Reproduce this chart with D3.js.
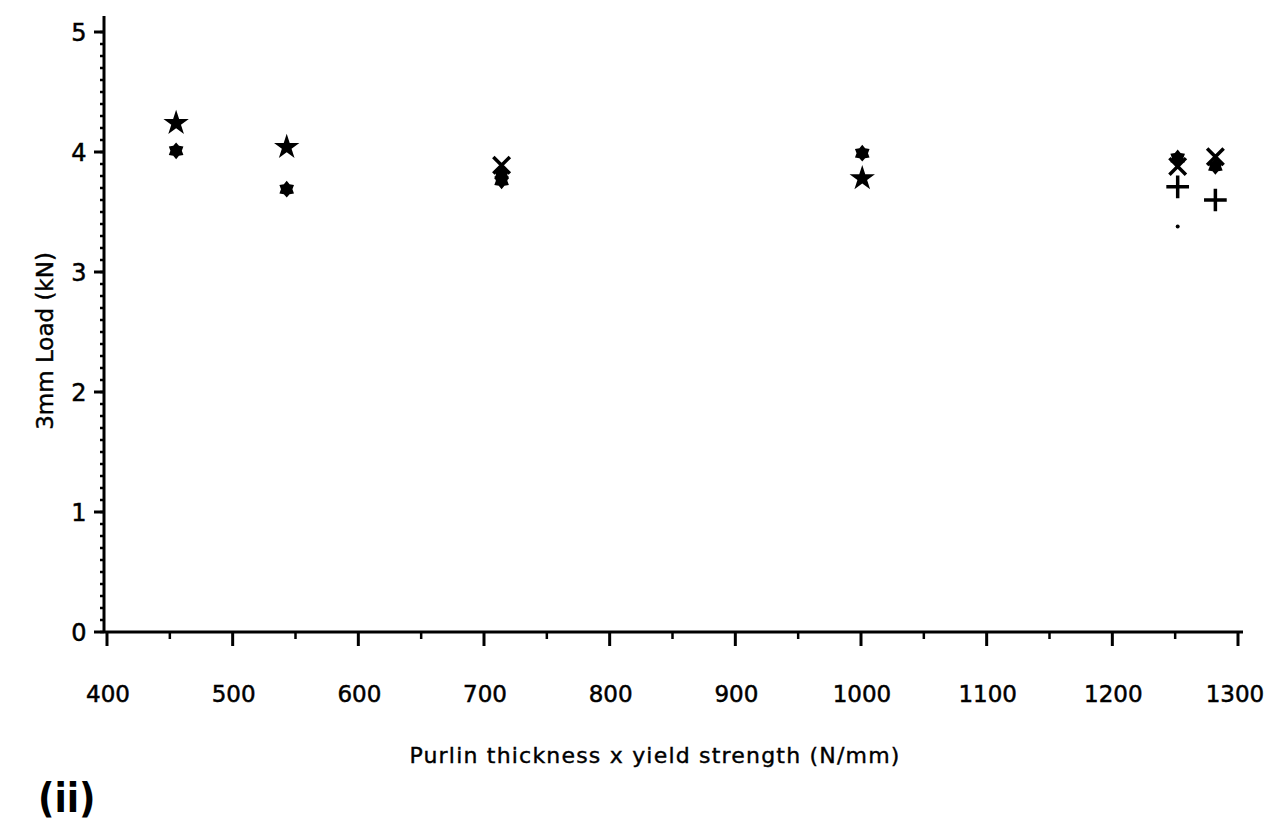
<!DOCTYPE html>
<html><head><meta charset="utf-8">
<script src="https://cdn.jsdelivr.net/npm/d3@7"></script>
<style>body{margin:0;background:#fff}svg{display:block}</style>
</head><body>
<svg id="c" width="1268" height="832"></svg>
<script>
const xTicks = [400,500,600,700,800,900,1000,1100,1200,1300];
const yTicks = [0,1,2,3,4,5];
const starX = [455,543,1001];
const starY = [4.24,4.04,3.78];
const rosetteX = [455,543,714,714,1001,1252,1282];
const rosetteY = [4.01,3.69,3.81,3.76,3.99,3.95,3.88];
const crossX = [714,1252,1282];
const crossY = [3.89,3.88,3.96];
const plusX = [1252,1282];
const plusY = [3.71,3.60];
const dotX = [1252];
const dotY = [3.38];
const xLabel = "Purlin thickness x yield strength (N/mm)";
const yLabel = "3mm Load (kN)";
const panel = "(ii)";

const svg = d3.select("#c");
const x = d3.scaleLinear().domain([400,1300]).range([107,1238]);
const y = d3.scaleLinear().domain([0,5]).range([632,32]);
const font = "'DejaVu Sans', sans-serif";

// axes
const gx = svg.append("g").attr("transform","translate(0,632)");
gx.append("line").attr("x1",104).attr("x2",1243).attr("stroke","#000").attr("stroke-width",3);
const xMinor = d3.range(450,1300,100);
gx.selectAll(".mn").data(xMinor).join("line").attr("x1",d=>x(d)).attr("x2",d=>x(d)).attr("y1",0).attr("y2",7).attr("stroke","#000").attr("stroke-width",2.5);
gx.selectAll(".mj").data(xTicks).join("line").attr("x1",d=>x(d)).attr("x2",d=>x(d)).attr("y1",0).attr("y2",14).attr("stroke","#000").attr("stroke-width",3);
gx.selectAll("text").data(xTicks).join("text").attr("x",d=>Math.min(x(d)+1,1235)).attr("y",70).attr("text-anchor","middle")
  .attr("font-family",font).attr("font-size",23).attr("stroke","#000").attr("stroke-width",0.5).attr("fill","#000").text(d=>d);

const gy = svg.append("g");
gy.append("line").attr("x1",104).attr("x2",104).attr("y1",633).attr("y2",16).attr("stroke","#000").attr("stroke-width",3);
const yMinor = d3.range(0,5.01,0.1).map(v=>+v.toFixed(1));
gy.selectAll(".mn").data(yMinor).join("line").attr("x1",100).attr("x2",104).attr("y1",d=>y(d)).attr("y2",d=>y(d)).attr("stroke","#000").attr("stroke-width",2.5);
gy.selectAll(".mj").data(yTicks).join("line").attr("x1",94).attr("x2",104).attr("y1",d=>y(d)).attr("y2",d=>y(d)).attr("stroke","#000").attr("stroke-width",3);
gy.selectAll("text").data(yTicks).join("text").attr("x",79).attr("y",d=>y(d)+9).attr("text-anchor","middle")
  .attr("font-family",font).attr("font-size",24).attr("stroke","#000").attr("stroke-width",0.5).attr("fill","#000").text(d=>d);

svg.append("text").attr("x",655).attr("y",763).attr("text-anchor","middle").attr("font-family",font).attr("font-size",22).attr("letter-spacing",1.2)
  .attr("stroke","#000").attr("stroke-width",0.4).text(xLabel);
svg.append("text").attr("transform","translate(53,341) rotate(-90)").attr("text-anchor","middle").attr("font-family",font).attr("font-size",23)
  .attr("stroke","#000").attr("stroke-width",0.4).text(yLabel);
svg.append("text").attr("x",38).attr("y",812).attr("font-family","'Liberation Sans Narrow','DejaVu Sans Condensed',sans-serif").attr("font-weight","bold").attr("font-size",40).text(panel);

// rosette symbol: filled 6-point star with short points
const rosette = {draw(ctx,size){const R=Math.sqrt(size/2.4),r=R*0.68;for(let i=0;i<12;i++){const a=Math.PI/6*i-Math.PI/2;const rr=i%2?r:R;const px=rr*Math.cos(a),py=rr*Math.sin(a);i?ctx.lineTo(px,py):ctx.moveTo(px,py);}ctx.closePath();}};

const g = svg.append("g");
g.selectAll(".st").data(d3.zip(starX,starY)).join("path").attr("transform",d=>`translate(${x(d[0])},${y(d[1])})`)
  .attr("d",d3.symbol(d3.symbolStar,200)).attr("fill","#000");
g.selectAll(".cr").data(d3.zip(crossX,crossY)).join("path").attr("transform",d=>`translate(${x(d[0])},${y(d[1])})`)
  .attr("d",d3.symbol(d3.symbolTimes,180)).attr("fill","none").attr("stroke","#000").attr("stroke-width",3.5);
g.selectAll(".ro").data(d3.zip(rosetteX,rosetteY)).join("path").attr("transform",d=>`translate(${x(d[0])},${y(d[1])})`)
  .attr("d",d3.symbol(rosette,170)).attr("fill","#000");
g.selectAll(".pl").data(d3.zip(plusX,plusY)).join("path").attr("transform",d=>`translate(${x(d[0])},${y(d[1])})`)
  .attr("d",d3.symbol(d3.symbolPlus,170)).attr("fill","none").attr("stroke","#000").attr("stroke-width",3.5);
g.selectAll(".dt").data(d3.zip(dotX,dotY)).join("circle").attr("cx",d=>x(d[0])).attr("cy",d=>y(d[1])).attr("r",2).attr("fill","#000");
</script>
</body></html>
